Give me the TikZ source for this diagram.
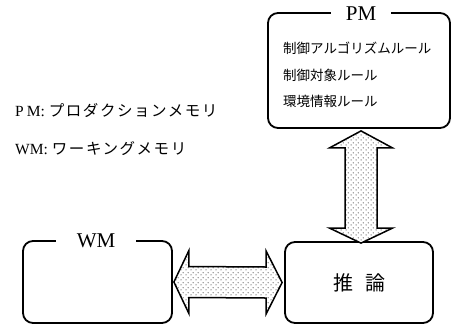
\documentclass[tikz,border=0pt]{standalone}
\usepackage{fontspec}
\setmainfont{Liberation Serif}
\newfontfamily\jp{Noto Sans CJK JP}
\newfontfamily\jpwide[LetterSpace=10]{Noto Sans CJK JP}
\usetikzlibrary{calc,patterns.meta}
\tikzdeclarepattern{
  name=sparsedots,
  type=uncolored,
  bottom left={(0pt,0pt)},
  top right={(5pt,5pt)},
  tile size={(5pt,5pt)},
  code={
    \pgfpathcircle{\pgfpoint{1.25pt}{1.25pt}}{0.6pt}
    \pgfpathcircle{\pgfpoint{3.75pt}{3.75pt}}{0.6pt}
    \pgfusepath{fill}
  }
}
\tikzset{
  box/.style={draw, line width=1.8pt, rounded corners=10pt, inner sep=0pt},
  boxtitle/.style={fill=white, inner ysep=2pt, font=\fontsize{21}{23}\selectfont},
  rule/.style={anchor=west, inner sep=0pt, font=\jp\fontsize{13.5}{15}\selectfont},
  legend/.style={anchor=west, inner sep=0pt, font=\fontsize{15.5}{17}\selectfont},
  bigarrow/.style={draw, line width=1.5pt, fill=white, postaction={pattern=sparsedots, pattern color=black}, line join=miter}
}
\begin{document}
\begin{tikzpicture}[x=1pt, y=-1pt]
\useasboundingbox (0,0) rectangle (454,325);
% boxes
\node[box, minimum width=182pt, minimum height=115pt] (pm) at (359,70.5) {};
\node[boxtitle, inner xsep=15pt] (pmt) at (361,14) {PM};
\node[rule] (r1) at (283,48) {制御アルゴリズムルール};
\node[rule] (r2) at (283,75) {制御対象ルール};
\node[rule] (r3) at (283,101) {環境情報ルール};

\node[box, minimum width=149pt, minimum height=82pt] (wm) at (97.5,282) {};
\node[boxtitle, inner xsep=21pt] (wmt) at (96,241) {WM};

\node[box, minimum width=148pt, minimum height=81pt, font=\jp\fontsize{20}{22}\selectfont] (inf) at (359,282.5) {推\hspace{0.6em}論};

% legend
\node[legend] (l1) at (15,110) {P\hspace{3pt}M:\hspace{4pt}{\jpwide プロダクションメモリ}};
\node[legend] (l2) at (15,149) {WM:\hspace{4pt}{\jpwide ワーキングメモリ}};

% vertical double arrow
\coordinate (va1) at ([xshift=2pt,yshift=-2pt]pm.south);
\coordinate (va2) at ([xshift=2pt,yshift=-2pt]inf.north);
\draw[bigarrow] (va1) -- ++(31.5,17) -- ++(-15.5,0) -- ($(va2)+(16,-15)$) -- ++(15.5,0) -- (va2)
  -- ++(-31.5,-15) -- ++(15.5,0) -- ($(va1)+(-16,17)$) -- ++(-15.5,0) -- cycle;

% horizontal double arrow
\coordinate (ha1) at ([xshift=1pt]wm.east);
\coordinate (ha2) at ([xshift=-2pt]inf.west);
\draw[bigarrow] (ha1) -- ++(15,-31.5) -- ++(0,16) -- ($(ha2)+(-16,-15.5)$) -- ++(0,-16) -- (ha2)
  -- ++(-16,31.5) -- ++(0,-16) -- ($(ha1)+(15,15.5)$) -- ++(0,16) -- cycle;
\end{tikzpicture}
\end{document}
